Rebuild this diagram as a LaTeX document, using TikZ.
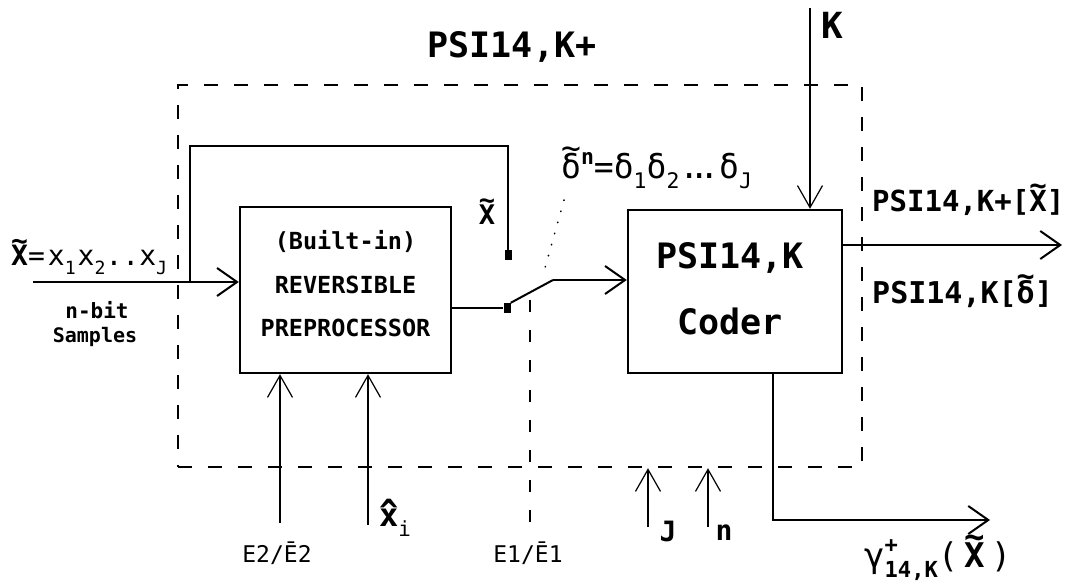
\documentclass[tikz,border=0pt]{standalone}
\usepackage{fontspec}
\setmainfont{DejaVu Sans Mono}
\usetikzlibrary{arrows.meta}
\newcommand{\fsz}[1]{\fontsize{#1}{1.2\dimexpr#1pt\relax}\selectfont}
\newcommand{\tld}[1]{\leavevmode\setbox0=\hbox{#1}\rlap{\hbox to\wd0{\hss\raisebox{\dimexpr\ht0-0.18em\relax}{\char"7E}\hss}}\box0}
\newcommand{\hatc}[1]{\leavevmode\setbox0=\hbox{#1}\rlap{\hbox to\wd0{\hss\raisebox{\dimexpr\ht0-0.42em\relax}{\char"5E}\hss}}\box0}
\newcommand{\sbs}[1]{\raisebox{-0.3em}{\fontsize{0.65\dimexpr\fontdimen6\font\relax}{1em}\selectfont #1}}
\newcommand{\sps}[1]{\raisebox{0.45em}{\fontsize{0.65\dimexpr\fontdimen6\font\relax}{1em}\selectfont #1}}
\newcommand{\tdots}{.\kern-0.3em.\kern-0.3em.}
\begin{document}
\begin{tikzpicture}[x=1pt,y=-1pt,
  blockbox/.style={draw, line width=2.4pt, inner sep=0pt},
  conn/.style={line width=2pt},
  mainarrow/.style={line width=2pt, -{Straight Barb[length=20pt,width=28pt,line width=2pt]}},
  thinarrow/.style={line width=1.2pt, -{Straight Barb[length=22pt,width=25pt,line width=1.2pt]}},
  outerdash/.style={draw, line width=2.4pt, dash pattern=on 14pt off 16pt},
  sqterm/.style={fill=black, minimum width=7pt, minimum height=10pt, inner sep=0pt},
  lbl/.style={inner sep=0pt},
]
\useasboundingbox (0,0) rectangle (1071,585);

% outer dashed boundary
\node[outerdash, minimum width=684pt, minimum height=382pt, inner sep=0pt] (outer) at (520,276) {};

% blocks
\node[blockbox, minimum width=211pt, minimum height=166pt] (pre) at (345.5,290) {};
\node[blockbox, minimum width=214pt, minimum height=163pt] (cod) at (735,291.5) {};

\node[lbl, align=center, font=\bfseries\fontsize{23.5}{43.5}\selectfont] (pretxt) at (345.5,284) {(Built-in)\\REVERSIBLE\\PREPROCESSOR};
\node[lbl, align=center, font=\bfseries\fontsize{35}{66}\selectfont] (codtxt) at (730,289) {PSI14,K\\Coder};

% switch terminals
\node[sqterm] (sqA) at (508,255) {};
\node[sqterm] (sqB) at (507,308) {};
\coordinate (swk) at (553,280);

% input
\coordinate (inS) at (33,282);
\coordinate (fbA) at (190,282);
\coordinate (fbB) at (190,146);
\draw[mainarrow] (inS) -- (inS -| pre.west);
\draw[conn] (fbA) -- (fbB) -| (sqA.north);

% preprocessor output and switch
\draw[conn] (pre.east |- sqB) -- (sqB.west);
\draw[conn] (sqB.north east) -- (swk);
\draw[mainarrow] (swk) -- (swk -| cod.west);

% E1 dashed line and dotted pointer
\coordinate (e1t) at (530,300);
\coordinate (e1b) at (530,525);
\draw[line width=1.2pt, dash pattern=on 12pt off 18pt] (e1t) -- (e1b);
\coordinate (dotA) at (564,200);
\coordinate (dotB) at (545,268);
\draw[line width=1.6pt, line cap=round, dash pattern=on 0.5pt off 11pt] (dotA) -- (dotB);

% K input
\coordinate (kS) at (810,8);
\draw[thinarrow] (kS) -- (kS |- cod.north);

% output
\coordinate (outE) at (1062,245);
\draw[mainarrow] (outE -| cod.east) -- (outE);

% coder side output
\coordinate (gS) at (773,373);
\coordinate (gB) at (773,520);
\coordinate (gE) at (990,520);
\draw[mainarrow, line width=1.6pt] (gS) -- (gB) -- (gE);

% bottom inputs
\coordinate (e2S) at (280,523);
\coordinate (xhS) at (368,525);
\coordinate (jS) at (648,527);
\coordinate (nS) at (708,527);
\draw[thinarrow] (e2S) -- (e2S |- pre.south);
\draw[thinarrow] (xhS) -- (xhS |- pre.south);
\draw[thinarrow] (jS) -- (jS |- outer.south);
\draw[thinarrow] (nS) -- (nS |- outer.south);

% labels
\node[lbl, font=\bfseries\fsz{35}] (title) at (512,47) {PSI14,K+};
\node[lbl, font=\bfseries\fsz{36}] (klbl) at (832,25) {K};
\node[lbl, font=\bfseries\fsz{27}] (xfb) at (487,212) {\tld{X}};
\node[lbl, anchor=west, font=\fsz{33}] (dlbl) at (561,168) {\tld{δ}\sps{\bfseries n}=δ\sbs{1}δ\sbs{2}\tdots δ\sbs{J}};
\node[lbl, anchor=west, font=\bfseries\fsz{29}] (outA) at (872,200) {PSI14,K+[\tld{X}]};
\node[lbl, anchor=west, font=\bfseries\fsz{30}] (outB) at (872,291) {PSI14,K[\tld{δ}]};
\node[lbl, anchor=west, font=\fsz{28}] (inlbl) at (11,257) {{\bfseries\tld{X}}=\kern3pt x\sbs{1}\kern2pt x\sbs{2}..x\sbs{J}};
\node[lbl, font=\bfseries\fsz{21}] (nbit) at (97,310) {n-bit};
\node[lbl, font=\bfseries\fsz{20}] (smp) at (95,337) {Samples};
\node[lbl, font=\fsz{23}] (e2l) at (277,553) {E2/\={E}2};
\node[lbl, font=\fsz{23}] (e1l) at (528,553) {E1/\={E}1};
\node[lbl, font=\bfseries\fsz{32}] (xhl) at (395,518) {\hatc{x}\sbs{\mdseries i}};
\node[lbl, font=\bfseries\fsz{28}] (jl) at (668,531) {J};
\node[lbl, font=\bfseries\fsz{28}] (nl) at (724,533) {n};
\node[lbl, anchor=west, font=\fsz{34}] (gl) at (864,558) {γ\rlap{\sps{\bfseries +}}\sbs{\bfseries 14,K}(\kern6pt{\bfseries\tld{X}}\kern6pt)};
\end{tikzpicture}
\end{document}
